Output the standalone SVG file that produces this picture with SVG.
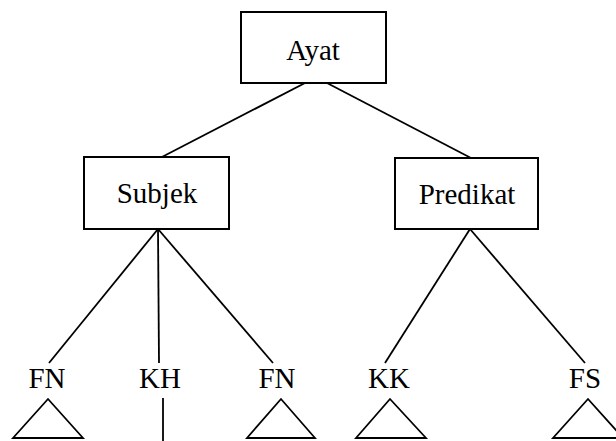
<svg xmlns="http://www.w3.org/2000/svg" width="616" height="441" viewBox="0 0 616 441">
<style>
.box{fill:#fff;stroke:#000;stroke-width:2}
.ln{fill:none;stroke:#000;stroke-width:1.8}
text{font-family:"Liberation Serif","Times New Roman",serif;font-size:29px;fill:#000;text-anchor:middle}
</style>
<rect width="616" height="441" fill="#fff"/>
<g id="connectors">
<line class="ln" x1="305" y1="83" x2="160" y2="158"/>
<line class="ln" x1="327" y1="83" x2="471" y2="158"/>
<line class="ln" x1="158" y1="229" x2="49" y2="363"/>
<line class="ln" x1="158" y1="229" x2="159" y2="363"/>
<line class="ln" x1="158" y1="229" x2="273" y2="363"/>
<line class="ln" x1="470" y1="229" x2="385" y2="363"/>
<line class="ln" x1="470" y1="229" x2="585" y2="363"/>
<line class="ln" x1="163" y1="398" x2="163" y2="441"/>
</g>
<g id="ayat"><rect class="box" x="241" y="12" width="145" height="71"/><text x="313" y="60">Ayat</text></g>
<g id="subjek"><rect class="box" x="84" y="157" width="145" height="72"/><text x="157" y="203">Subjek</text></g>
<g id="predikat"><rect class="box" x="395" y="158" width="143" height="71"/><text x="467" y="204">Predikat</text></g>
<g id="fn1"><text x="47" y="388">FN</text><polygon class="ln" points="48,399 13,438 83,438"/></g>
<g id="kh"><text x="160" y="388">KH</text></g>
<g id="fn2"><text x="277" y="388">FN</text><polygon class="ln" points="281,399 247,438 315,438"/></g>
<g id="kk"><text x="389" y="388">KK</text><polygon class="ln" points="390,399 356,438 426,438"/></g>
<g id="fs"><text x="585" y="388">FS</text><polygon class="ln" points="588,399 553,438 623,438"/></g>
</svg>
